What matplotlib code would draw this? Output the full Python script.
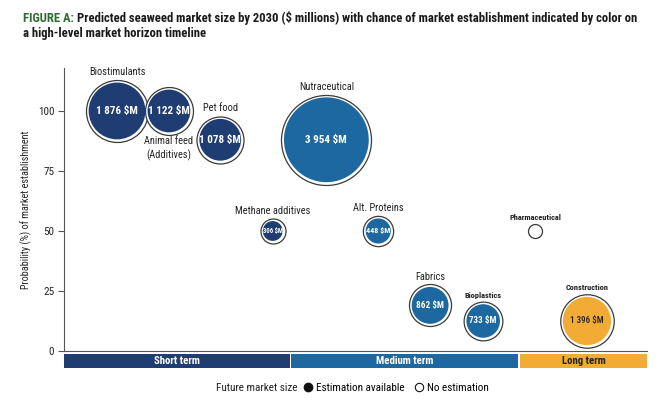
import numpy as np
import matplotlib.pyplot as plt
from matplotlib.lines import Line2D
from matplotlib import font_manager

names = set(f.name for f in font_manager.fontManager.ttflist)
cands = ['Roboto Condensed', 'Archivo Narrow', 'PT Sans Narrow', 'Liberation Sans Narrow', 'DejaVu Sans']
narrow = [c for c in cands if c in names][0]
plt.rcParams['font.family'] = [narrow, 'DejaVu Sans']

# data
markets = ['Biostimulants', 'Animal feed\n(Additives)', 'Pet food', 'Nutraceutical',
           'Methane additives', 'Alt. Proteins', 'Pharmaceutical', 'Fabrics',
           'Bioplastics', 'Construction']
horizon = [0.91, 1.80, 2.68, 4.50, 3.58, 5.39, 8.08, 6.28, 7.19, 8.97]
probability = [100, 100, 88, 88, 50, 50, 50, 19, 12.5, 12.5]
market_size = [1876, 1122, 1078, 3954, 306, 448, None, 862, 733, 1396]
term = ['short', 'short', 'short', 'medium', 'short', 'medium', 'long', 'medium', 'medium', 'long']

phases = ['Short term', 'Medium term', 'Long term']
phase_start = [0, 3.90, 7.82]
phase_end = [3.87, 7.79, 10]

colors = {'short': '#1f3c73', 'medium': '#1d68a0', 'long': '#f2ab35'}
phase_colors = ['#1f3c73', '#1d68a0', '#f2ab35']
edge = '#3a3a3a'

fig = plt.figure(figsize=(6.59, 4.07), dpi=100)
ax = fig.add_axes([64/659, 56/407, 583/659, 283/407])
ax.set_xlim(0, 10)
ax.set_ylim(0, 117.9)

# label placement: above (1) or below (-1), font size, bold
label_pos = [(1, 7.5, False), (-1, 7.5, False), (1, 7.5, False), (1, 7.5, False), (1, 7.5, False),
             (1, 7.5, False), (1, 6, True), (1, 7.5, False), (1, 6, True), (1, 6, True)]

for i, name in enumerate(markets):
    x, y, v = horizon[i], probability[i], market_size[i]
    if v is None:
        r = 7
        ax.scatter(x, y, s=(1.44*r)**2, facecolor='white', edgecolor=edge, lw=0.9, zorder=3)
    else:
        r = 31*np.sqrt(v/1876)
        ax.scatter(x, y, s=(1.44*r)**2, facecolor='white', edgecolor=edge, lw=0.9, zorder=3)
        ax.scatter(x, y, s=(1.44*(r-2.6))**2, facecolor=colors[term[i]], edgecolor='none', zorder=4)
        txt = f"{v:,} $M".replace(',', ' ')
        if term[i] == 'long':
            ax.text(x, y, txt, ha='center', va='center', color='#222222', fontsize=6.5,
                    fontweight='medium', zorder=5)
        else:
            fs = 8 if r > 22 else (6.6 if r > 17 else r*0.38)
            ax.text(x, y, txt, ha='center', va='center', color='white', fontsize=fs,
                    fontweight='bold', zorder=5)
    rp = r*0.72
    side, fs, bold = label_pos[i]
    fw = 'bold' if bold else 'normal'
    if side > 0:
        ax.annotate(name, (x, y), xytext=(0, rp + 2), textcoords='offset points',
                    ha='center', va='bottom', fontsize=fs, color='#222222', fontweight=fw)
    else:
        ax.annotate(name, (x, y), xytext=(0, -rp - 1), textcoords='offset points',
                    ha='center', va='top', fontsize=fs, color='#222222', linespacing=1.3)

ax.set_yticks([0, 25, 50, 75, 100])
ax.set_xticks([])
ax.tick_params(axis='y', length=4, width=0.8, color='#555555', labelsize=8, labelcolor='#222222', pad=3)
for s in ['top', 'right']:
    ax.spines[s].set_visible(False)
ax.spines['left'].set_color('#555555')
ax.spines['bottom'].set_color('#555555')
ax.set_ylabel('Probability (%) of market establishment', fontsize=7.3, color='#222222', labelpad=4)

# timeline
tl = fig.add_axes([64/659, 39/407, 583/659, 14/407])
tl.set_xlim(0, 10)
tl.set_ylim(0, 1)
for name, a, b, c in zip(phases, phase_start, phase_end, phase_colors):
    tl.barh(0.5, b - a, left=a, height=1, color=c)
    tl.text((a + b)/2, 0.5, name, ha='center', va='center', fontsize=7.8, fontweight='bold',
            color='#222222' if c == '#f2ab35' else 'white')
tl.axis('off')

# titles, sized so the first line runs from x=23 to x=640
fig.canvas.draw()
r_ = fig.canvas.get_renderer()
line1 = 'Predicted seaweed market size by 2030 ($ millions) with chance of market establishment indicated by color on'
fs = 10
t1 = fig.text(23/659, 1 - 18/407, 'FIGURE A: ', color='#2d6a2f', fontsize=fs, fontweight='bold', va='center')
t2 = fig.text(0, 1 - 18/407, line1, color='#1a1a1a', fontsize=fs, fontweight='bold', va='center')
w = t1.get_window_extent(r_).width + t2.get_window_extent(r_).width
fs = fs*(640 - 23)/w
t1.set_fontsize(fs)
t2.set_fontsize(fs)
t2.set_x((23 + t1.get_window_extent(r_).width)/659)
fig.text(23/659, 1 - 34/407, 'a high-level market horizon timeline',
         color='#1a1a1a', fontsize=fs, fontweight='bold', va='center')

# legend
fig.text(298/659, 1 - 388/407, 'Future market size', ha='right', va='center', fontsize=8, color='#222222')
handles = [Line2D([], [], ls='none', marker='o', mfc='#111111', mec='#111111', ms=6),
           Line2D([], [], ls='none', marker='o', mfc='white', mec='#111111', ms=6, mew=0.8)]
fig.legend(handles, ['Estimation available', 'No estimation'], loc='center left',
           bbox_to_anchor=(304/659, 1 - 388/407), ncol=2, frameon=False, fontsize=8,
           handlelength=0.8, handletextpad=0.3, columnspacing=0.9, borderaxespad=0, borderpad=0)

fig.savefig('out.png', dpi=100)
